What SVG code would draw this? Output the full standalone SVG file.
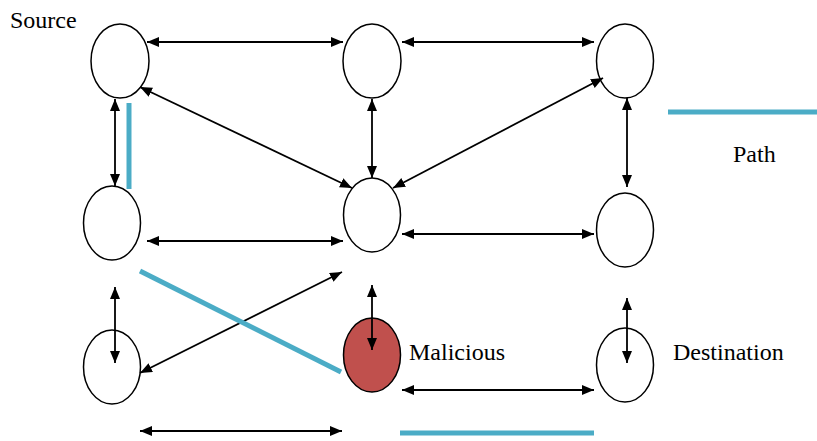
<svg xmlns="http://www.w3.org/2000/svg" width="817" height="441" viewBox="0 0 817 441">
  <defs>
    <marker id="tip" viewBox="0 0 12 10" refX="12" refY="5" markerWidth="12" markerHeight="10" markerUnits="userSpaceOnUse" orient="auto-start-reverse">
      <path d="M0,0 L12,5 L0,10 z" fill="#000"/>
    </marker>
  </defs>
  <style>
    .node { fill: #fff; stroke: #000; stroke-width: 1.5; }
    .bad { fill: #c0504d; }
    .link { stroke: #000; stroke-width: 1.8; fill: none; marker-start: url(#tip); marker-end: url(#tip); }
    .path { stroke: #4bacc6; stroke-width: 5; fill: none; }
    .label { font-family: "Liberation Serif", "Times New Roman", serif; font-size: 24px; fill: #000; }
  </style>

  <rect width="817" height="441" fill="#fff"/>

  <!-- nodes -->
  <g id="n-source"><ellipse class="node" cx="120" cy="61" rx="29" ry="37"/></g>
  <g id="n-top-mid"><ellipse class="node" cx="372" cy="61" rx="29" ry="37"/></g>
  <g id="n-top-right"><ellipse class="node" cx="625" cy="61" rx="28.5" ry="37"/></g>
  <g id="n-mid-left"><ellipse class="node" cx="112" cy="223" rx="28.5" ry="37"/></g>
  <g id="n-center"><ellipse class="node" cx="372" cy="215" rx="28.5" ry="37"/></g>
  <g id="n-mid-right"><ellipse class="node" cx="625" cy="230" rx="28.5" ry="37"/></g>
  <g id="n-bottom-left"><ellipse class="node" cx="112" cy="367" rx="28.5" ry="37"/></g>
  <g id="n-malicious"><ellipse class="node bad" cx="372" cy="355" rx="28.5" ry="37"/></g>
  <g id="n-destination"><ellipse class="node" cx="625" cy="365" rx="28.5" ry="37"/></g>

  <!-- connectors -->
  <g id="connectors">
    <line class="link" x1="147" y1="42" x2="343" y2="42"/>
    <line class="link" x1="402" y1="42" x2="594" y2="42"/>
    <line class="link" x1="115" y1="99" x2="115" y2="186"/>
    <line class="link" x1="140" y1="87" x2="352" y2="188"/>
    <line class="link" x1="372" y1="99" x2="372" y2="178"/>
    <line class="link" x1="393" y1="188" x2="603" y2="78"/>
    <line class="link" x1="627" y1="98" x2="627" y2="187"/>
    <line class="link" x1="147" y1="241" x2="343" y2="241"/>
    <line class="link" x1="402" y1="234" x2="594" y2="234"/>
    <line class="link" x1="115" y1="287" x2="115" y2="363"/>
    <line class="link" x1="140" y1="373" x2="342" y2="272"/>
    <line class="link" x1="372" y1="285" x2="372" y2="350"/>
    <line class="link" x1="402" y1="390" x2="594" y2="390"/>
    <line class="link" x1="627" y1="298" x2="627" y2="363"/>
    <line class="link" x1="140" y1="431" x2="342" y2="431"/>
  </g>

  <!-- route highlight and legend swatches -->
  <g id="route">
    <line class="path" x1="129" y1="103" x2="129" y2="189"/>
    <line class="path" x1="140" y1="271" x2="341" y2="372"/>
    <line class="path" x1="668" y1="112" x2="817" y2="112"/>
    <line class="path" x1="400" y1="433" x2="594" y2="433"/>
  </g>

  <!-- labels -->
  <g id="labels">
    <text class="label" x="10" y="28">Source</text>
    <text class="label" x="733" y="162">Path</text>
    <text class="label" x="409" y="360">Malicious</text>
    <text class="label" x="673" y="360">Destination</text>
  </g>
</svg>
